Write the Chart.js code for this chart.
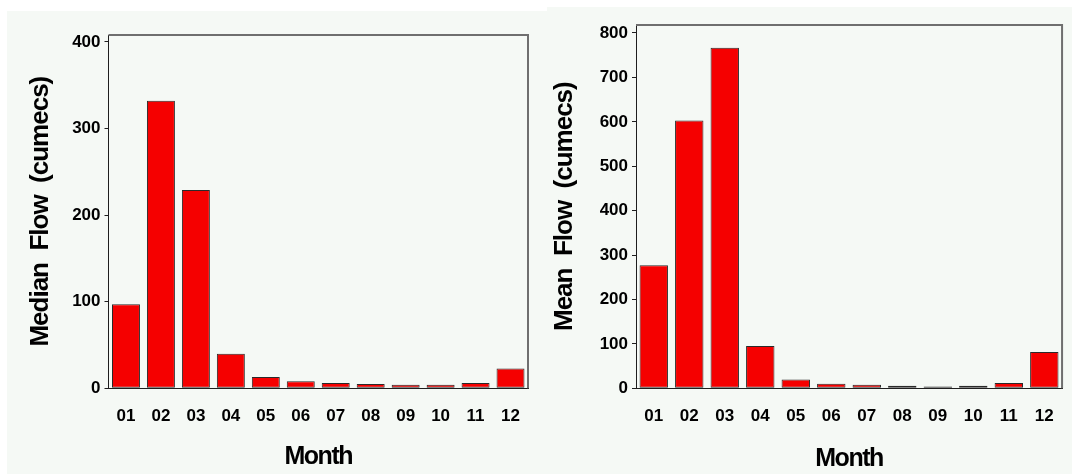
<!DOCTYPE html>
<html>
<head>
<meta charset="utf-8">
<script src="https://cdn.jsdelivr.net/npm/chart.js@4/dist/chart.umd.min.js"></script>
<style>
  html, body { margin: 0; padding: 0; background: #ffffff; width: 1072px; height: 474px; overflow: hidden; }
  .panel { position: absolute; background: #f5f9f5; }
  #p1 { left: 7px; top: 11px; width: 540px; height: 463px; }
  #p2 { left: 547px; top: 7px; width: 525px; height: 467px; }
  canvas { display: block; }
</style>
</head>
<body>
<div class="panel" id="p1"><canvas id="c1"></canvas></div>
<div class="panel" id="p2"><canvas id="c2"></canvas></div>
<script>
// Monthly flow summary (cumecs)
const months = ['01', '02', '03', '04', '05', '06', '07', '08', '09', '10', '11', '12'];
const medianFlow = [97, 332, 229, 40, 13, 8, 6, 5, 4, 4, 6, 23];
const meanFlow = [277, 603, 767, 95, 20, 10, 8, 6, 4, 6, 12, 82];
const medianTicks = [0, 100, 200, 300, 400];
const meanTicks = [0, 100, 200, 300, 400, 500, 600, 700, 800];

const FONT = "'Liberation Sans', Arial, Helvetica, sans-serif";

// Axis titles are set with tight glyph spacing; tick labels keep normal spacing
const tightTitles = {
  id: 'tightTitles',
  beforeDraw(chart) {
    chart.ctx.letterSpacing = '0px';
    Object.values(chart.scales).forEach(s => {
      if (s._tight) return;
      const base = s.drawTitle.bind(s);
      const spacing = s.isHorizontal() ? '-1.5px' : '-1px';
      s.drawTitle = function () {
        const c = this.ctx;
        const prev = c.letterSpacing;
        c.letterSpacing = spacing;
        base();
        c.letterSpacing = prev;
      };
      s._tight = true;
    });
  }
};

// Grey top/right edges of the plot frame
const frame = {
  id: 'frame',
  afterDatasetsDraw(chart) {
    const { ctx, chartArea: { left, top, right, bottom } } = chart;
    ctx.save();
    ctx.strokeStyle = '#6f6f6f';
    ctx.lineWidth = 2;
    ctx.beginPath();
    ctx.moveTo(left, top);
    ctx.lineTo(right, top);
    ctx.lineTo(right, bottom);
    ctx.stroke();
    ctx.restore();
  }
};

function flowChart(id, values, tickValues, yMax, yTitle, g) {
  return new Chart(document.getElementById(id), {
    type: 'bar',
    data: {
      labels: months,
      datasets: [{
        data: values,
        backgroundColor: '#f50000',
        borderColor: '#2a2a2a',
        borderWidth: 1,
        borderSkipped: false,
        barPercentage: 0.8,
        categoryPercentage: 1.0
      }]
    },
    options: {
      responsive: true,
      maintainAspectRatio: false,
      animation: false,
      devicePixelRatio: 1,
      layout: { padding: { top: g.top, right: g.right, left: 0, bottom: 0 } },
      plugins: { legend: { display: false }, tooltip: { enabled: false } },
      scales: {
        x: {
          grid: { display: false, drawTicks: false },
          border: { display: true, color: '#1e1e1e', width: 1 },
          ticks: { color: '#000', font: { family: FONT, size: 17, weight: 'bold' }, padding: g.xTickPad, maxRotation: 0 },
          title: {
            display: true, text: 'Month', color: '#000',
            font: { family: FONT, size: 25, weight: 'bold' },
            padding: { top: 0, bottom: g.xTitlePad }
          },
          afterFit(s) { s.height = g.xHeight; }
        },
        y: {
          min: 0,
          max: yMax,
          grid: { display: true, drawOnChartArea: false, drawTicks: true, tickLength: 4, color: '#1e1e1e' },
          border: { display: true, color: '#1e1e1e', width: 1 },
          ticks: { color: '#000', font: { family: FONT, size: 17, weight: 'bold' }, padding: 4, includeBounds: false },
          afterBuildTicks(s) { s.ticks = tickValues.map(v => ({ value: v })); },
          title: {
            display: true, text: yTitle, color: '#000',
            font: { family: FONT, size: 26, weight: 'bold' },
            padding: { top: g.yTitlePad, bottom: 0 }
          },
          afterFit(s) { s.width = g.yWidth; }
        }
      }
    },
    plugins: [tightTitles, frame]
  });
}

flowChart('c1', medianFlow, medianTicks, 408, 'Median  Flow  (cumecs)',
  { top: 24, right: 19, yWidth: 101.5, xHeight: 85.7, yTitlePad: 18.5, xTitlePad: 2, xTickPad: 18 });
flowChart('c2', meanFlow, meanTicks, 818, 'Mean  Flow  (cumecs)',
  { top: 18, right: 5.7, yWidth: 89, xHeight: 85.7, yTitlePad: 2.5, xTitlePad: 0, xTickPad: 18 });
</script>
</body>
</html>
